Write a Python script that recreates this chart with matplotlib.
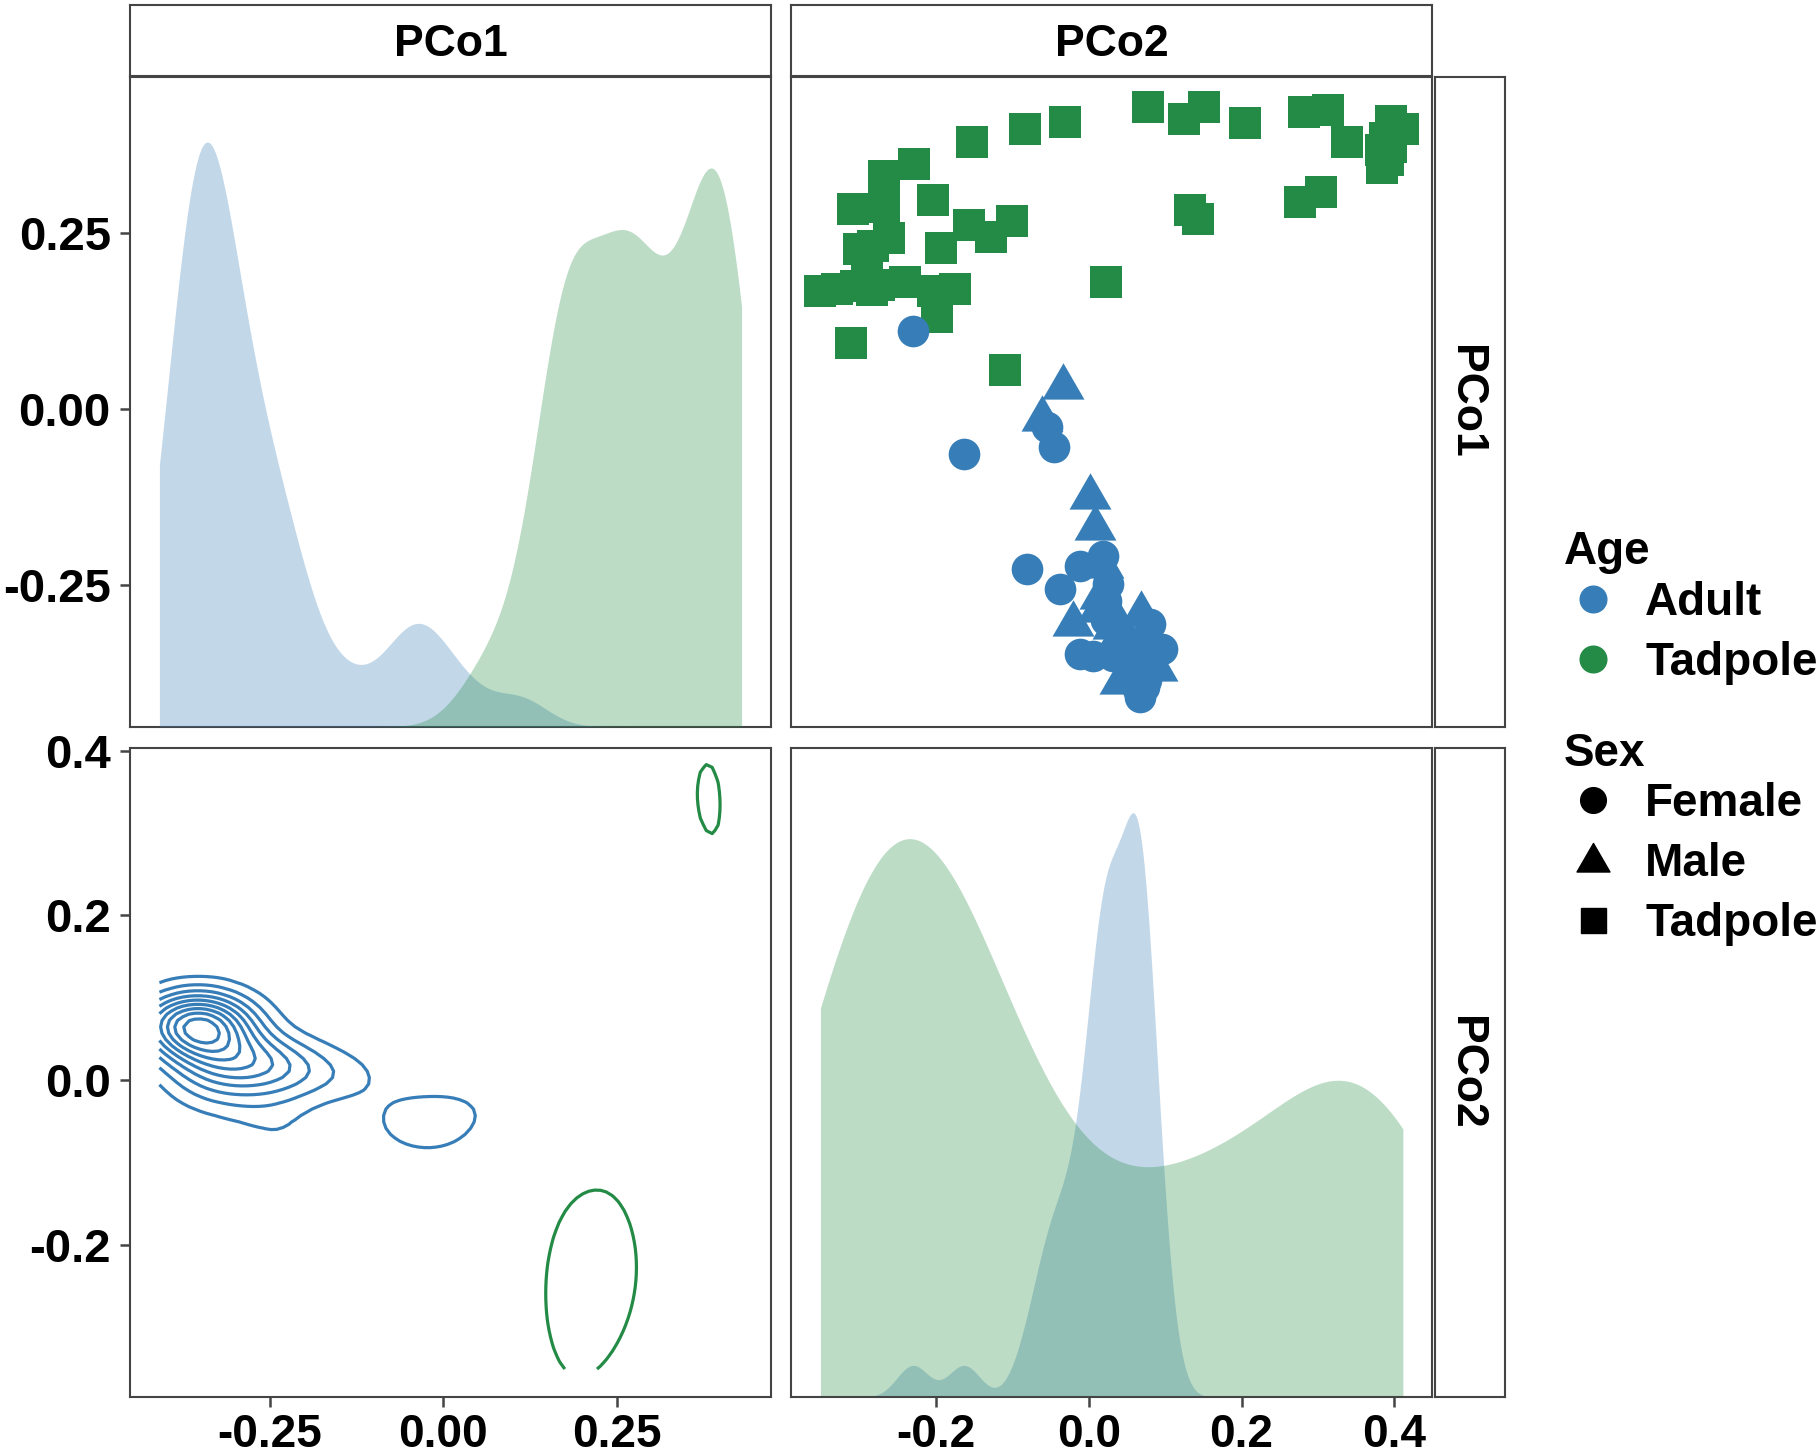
import numpy as np
import matplotlib
matplotlib.use("Agg")
import matplotlib.pyplot as plt
from matplotlib.path import Path

plt.rcParams['font.family'] = ['Liberation Sans', 'DejaVu Sans']
plt.rcParams['font.weight'] = 'bold'
plt.rcParams['axes.unicode_minus'] = False

BLUE = '#377EB8'
GREEN = '#238B45'
EDGE = '#444444'

# ---------- data ----------
# Tadpoles (all "Tadpole" sex)
tad_pco2 = [-0.031, -0.083, -0.153, -0.229, -0.268, -0.308, -0.268, -0.282, -0.261, -0.204,
            -0.156, -0.101, -0.128, -0.193, -0.351, -0.329, -0.305, -0.284, -0.275, -0.241,
            -0.204, -0.175, -0.198, -0.311, -0.110, 0.022, 0.077, 0.124, 0.151, 0.205,
            0.281, 0.313, 0.338, 0.396, 0.411, 0.383, 0.384, 0.392, 0.132, 0.143,
            0.277, 0.304, 0.395, 0.388, -0.300, -0.290]
tad_pco1 = [0.408, 0.398, 0.379, 0.348, 0.332, 0.284, 0.287, 0.232, 0.243, 0.297,
            0.262, 0.268, 0.245, 0.229, 0.168, 0.171, 0.175, 0.169, 0.176, 0.181,
            0.168, 0.171, 0.131, 0.094, 0.056, 0.181, 0.430, 0.412, 0.429, 0.407,
            0.422, 0.425, 0.379, 0.410, 0.398, 0.368, 0.343, 0.354, 0.283, 0.270,
            0.294, 0.308, 0.372, 0.385, 0.228, 0.215]

# Adults
ad_pco2 = [-0.230, -0.033, -0.061, -0.055, -0.046, -0.163, 0.002, 0.008, 0.019, -0.081,
           -0.037, -0.011, 0.019, 0.015, -0.020, 0.069, 0.080, 0.096, -0.011, 0.006,
           0.032, 0.032, 0.067, 0.076, 0.072, 0.067, 0.041, 0.089, 0.028, 0.050,
           0.060, 0.065, 0.062, 0.022, 0.070, 0.012, 0.064, 0.025, 0.030, 0.058,
           0.066, 0.052, 0.022, 0.075]
ad_pco1 = [0.111, 0.032, -0.014, -0.025, -0.053, -0.063, -0.125, -0.168, -0.222, -0.227,
           -0.255, -0.222, -0.208, -0.267, -0.305, -0.291, -0.305, -0.341, -0.348, -0.350,
           -0.310, -0.350, -0.333, -0.367, -0.395, -0.409, -0.388, -0.369, -0.343, -0.362,
           -0.340, -0.350, -0.355, -0.272, -0.345, -0.285, -0.398, -0.248, -0.290, -0.335,
           -0.345, -0.328, -0.300, -0.385]
ad_sex = ['F', 'M', 'M', 'F', 'F', 'F', 'M', 'M', 'M', 'F',
          'F', 'F', 'F', 'M', 'M', 'M', 'F', 'F', 'F', 'F',
          'M', 'F', 'F', 'F', 'F', 'F', 'M', 'M', 'M', 'F',
          'F', 'F', 'M', 'F', 'F', 'M', 'F', 'F', 'M', 'F',
          'F', 'M', 'F', 'F']

# peak height of each diagonal density, as a fraction of the panel height
diag_peak_adult = 0.90
diag_peak_tadpole = 0.86

var_names = ['PCo1', 'PCo2']
y_ticks_top = [0.25, 0.00, -0.25]
y_labels_top = ['0.25', '0.00', '-0.25']
y_ticks_bot = [0.4, 0.2, 0.0, -0.2]
y_labels_bot = ['0.4', '0.2', '0.0', '-0.2']
x_ticks_c1 = [-0.25, 0.00, 0.25]
x_labels_c1 = ['-0.25', '0.00', '0.25']
x_ticks_c2 = [-0.2, 0.0, 0.2, 0.4]
x_labels_c2 = ['-0.2', '0.0', '0.2', '0.4']

tad_pco1 = np.array(tad_pco1); tad_pco2 = np.array(tad_pco2)
ad_pco1 = np.array(ad_pco1); ad_pco2 = np.array(ad_pco2)
ad_sex = np.array(ad_sex)

TICK_FS = 34
XTICK_FS = 33
STRIP_FS = 32
LEG_FS = 33


# ---------- stats (same recipes as R) ----------
def iqr(x):
    q75, q25 = np.percentile(x, [75, 25])
    return q75 - q25

def bw_nrd0(x):
    return 0.9 * min(np.std(x, ddof=1), iqr(x) / 1.34) * len(x) ** -0.2

def sd_nrd(x):   # MASS::bandwidth.nrd / 4
    return 1.06 * min(np.std(x, ddof=1), iqr(x) / 1.34) * len(x) ** -0.2

def kde1(x, grid):
    bw = bw_nrd0(x)
    z = (grid[:, None] - x[None, :]) / bw
    return np.exp(-0.5 * z ** 2).sum(1) / (len(x) * bw * np.sqrt(2 * np.pi))

def kde2(x, y, gx, gy):
    hx, hy = sd_nrd(x), sd_nrd(y)
    kx = np.exp(-0.5 * ((gx[:, None] - x[None, :]) / hx) ** 2) / (hx * np.sqrt(2 * np.pi))
    ky = np.exp(-0.5 * ((gy[:, None] - y[None, :]) / hy) ** 2) / (hy * np.sqrt(2 * np.pi))
    return kx @ ky.T / len(x)

def pretty_breaks(lo, hi, n=10):
    cell = (hi - lo) / n
    base = 10 ** np.floor(np.log10(cell))
    unit = base
    if 2 * base - cell < 1.5 * (cell - unit):
        unit = 2 * base
        if 5 * base - cell < 2.75 * (cell - unit):
            unit = 5 * base
            if 10 * base - cell < 1.5 * (cell - unit):
                unit = 10 * base
    return np.arange(np.floor(lo / unit), np.ceil(hi / unit) + 1) * unit

def expand(lo, hi, m=0.05):
    d = hi - lo
    return lo - m * d, hi + m * d


all1 = np.concatenate([ad_pco1, tad_pco1])
all2 = np.concatenate([ad_pco2, tad_pco2])
r1 = (all1.min(), all1.max())
r2 = (all2.min(), all2.max())
lim1 = expand(*r1)
lim2 = expand(*r2)
lim2_contour = (-0.3853, 0.4036)

# ---------- figure layout (pixels) ----------
W, H = 1816, 1454
fig = plt.figure(figsize=(W / 100, H / 100), dpi=100)
PX = 100 / 72.0   # pixels per point

def box(l, t, r, b):
    return [l / W, 1 - b / H, (r - l) / W, (b - t) / H]

cols = [(130.3, 770.7), (791.3, 1432.0)]
rows = [(77.0, 726.7), (747.7, 1397.3)]

def style(ax):
    for s in ax.spines.values():
        s.set_color(EDGE)
        s.set_linewidth(1.5)
    ax.tick_params(length=7, width=1.8, color=EDGE, labelsize=TICK_FS, labelcolor='black')
    ax.tick_params(axis='x', pad=4.5, labelsize=XTICK_FS)
    ax.tick_params(axis='y', pad=7.0)
    ax.set_xticks([]); ax.set_yticks([])

ax11 = fig.add_axes(box(cols[0][0], rows[0][0], cols[0][1], rows[0][1]))
ax12 = fig.add_axes(box(cols[1][0], rows[0][0], cols[1][1], rows[0][1]))
ax21 = fig.add_axes(box(cols[0][0], rows[1][0], cols[0][1], rows[1][1]))
ax22 = fig.add_axes(box(cols[1][0], rows[1][0], cols[1][1], rows[1][1]))
for a in (ax11, ax12, ax21, ax22):
    style(a)

# ---------- diagonal densities ----------
def diag_density(ax, ad_vals, tad_vals, rng):
    grid = np.linspace(rng[0], rng[1], 512)
    for vals, col, peak in ((ad_vals, BLUE, diag_peak_adult), (tad_vals, GREEN, diag_peak_tadpole)):
        d = kde1(vals, grid)
        ax.fill_between(grid, 0, d / d.max() * peak, color=col, alpha=0.3, linewidth=0)
    ax.set_ylim(0, 1)

ax11d = ax11.twinx()
ax11d.set_position(ax11.get_position())
for s in ax11d.spines.values():
    s.set_visible(False)
ax11d.set_yticks([])
diag_density(ax11d, ad_pco1, tad_pco1, r1)
ax11.set_xlim(*lim1)
ax11.set_ylim(*lim1)
ax11.set_yticks(y_ticks_top, labels=y_labels_top)

diag_density(ax22, ad_pco2, tad_pco2, r2)
ax22.set_xlim(*lim2)
ax22.set_xticks(x_ticks_c2, labels=x_labels_c2)

# ---------- scatter (x = PCo2, y = PCo1) ----------
tri = Path([(0, 1), (-0.866, -0.5), (0.866, -0.5), (0, 1)],
           [Path.MOVETO, Path.LINETO, Path.LINETO, Path.CLOSEPOLY])
ax12.scatter(tad_pco2, tad_pco1, marker='s', s=22.8 ** 2, color=GREEN, linewidths=0)
fem = ad_sex == 'F'
ax12.scatter(ad_pco2[fem], ad_pco1[fem], marker='o', s=22.8 ** 2, color=BLUE, linewidths=0)
ax12.scatter(ad_pco2[~fem], ad_pco1[~fem], marker=tri, s=34.9 ** 2, color=BLUE, linewidths=0)
ax12.set_xlim(*lim2)
ax12.set_ylim(*lim1)

# ---------- 2d density contours (x = PCo1, y = PCo2) ----------
gx = np.linspace(r1[0], r1[1], 100)
gy = np.linspace(r2[0], r2[1], 100)
z_ad = kde2(ad_pco1, ad_pco2, gx, gy)
z_tad = kde2(tad_pco1, tad_pco2, gx, gy)
zmin = min(z_ad.min(), z_tad.min())
zmax = max(z_ad.max(), z_tad.max())
levels = pretty_breaks(zmin, zmax, 10)
for z, col in ((z_ad, BLUE), (z_tad, GREEN)):
    lv = levels[(levels > z.min()) & (levels < z.max())]
    if len(lv):
        ax21.contour(gx, gy, z.T, levels=lv, colors=col, linewidths=2.3)
ax21.set_xlim(*lim1)
ax21.set_ylim(*lim2_contour)
ax21.set_xticks(x_ticks_c1, labels=x_labels_c1)
ax21.set_yticks(y_ticks_bot, labels=y_labels_bot)

# ---------- strips ----------
half_cap = 0.716 * STRIP_FS * PX / 2

def strip(l, t, r, b, text, vertical=False):
    sa = fig.add_axes(box(l, t, r, b))
    sa.set_xticks([]); sa.set_yticks([])
    sa.set_facecolor('white')
    for s in sa.spines.values():
        s.set_color(EDGE)
        s.set_linewidth(1.5)
    if vertical:
        cx = (l + r) / 2 - half_cap
        cy = (t + b) / 2
        fig.text(cx / W, 1 - cy / H, text, fontsize=STRIP_FS, fontweight='bold', rotation=-90,
                 rotation_mode='anchor', ha='center', va='baseline')
    else:
        cx = (l + r) / 2
        cy = (t + b) / 2 + half_cap
        fig.text(cx / W, 1 - cy / H, text, fontsize=STRIP_FS, fontweight='bold',
                 ha='center', va='baseline')

for (l, r), name in zip(cols, var_names):
    strip(l, 4.7, r, 75.5, name)
for (t, b), name in zip(rows, var_names):
    strip(1434.5, t, 1504.6, b, name, vertical=True)

# ---------- legend ----------
lax = fig.add_axes([0, 0, 1, 1])
lax.set_xlim(0, W)
lax.set_ylim(H, 0)
lax.axis('off')
lcap = 0.716 * LEG_FS * PX / 2
key_x = 1592.7
text_x = 1645.0
title_x = 1564.0
lax.text(title_x, 547.2 + lcap, 'Age', fontsize=LEG_FS, fontweight='bold', va='baseline')
for yk, col, lab in ((599.0, BLUE, 'Adult'), (658.7, GREEN, 'Tadpole')):
    lax.plot([key_x], [yk], marker='o', ms=19.2, color=col, ls='none')
    lax.text(text_x, yk + lcap, lab, fontsize=LEG_FS, fontweight='bold', va='baseline')
lax.text(title_x, 750.0 + lcap, 'Sex', fontsize=LEG_FS, fontweight='bold', va='baseline')
for yk, mk, ms, lab in ((800.0, 'o', 18.5, 'Female'), (860.0, tri, 27.4, 'Male'),
                        (920.0, 's', 18.0, 'Tadpole')):
    lax.plot([key_x], [yk + (2 if lab == 'Male' else 0)], marker=mk, ms=ms, color='black', ls='none')
    lax.text(text_x, yk + lcap, lab, fontsize=LEG_FS, fontweight='bold', va='baseline')

fig.savefig('out.png', dpi=100, facecolor='white')
